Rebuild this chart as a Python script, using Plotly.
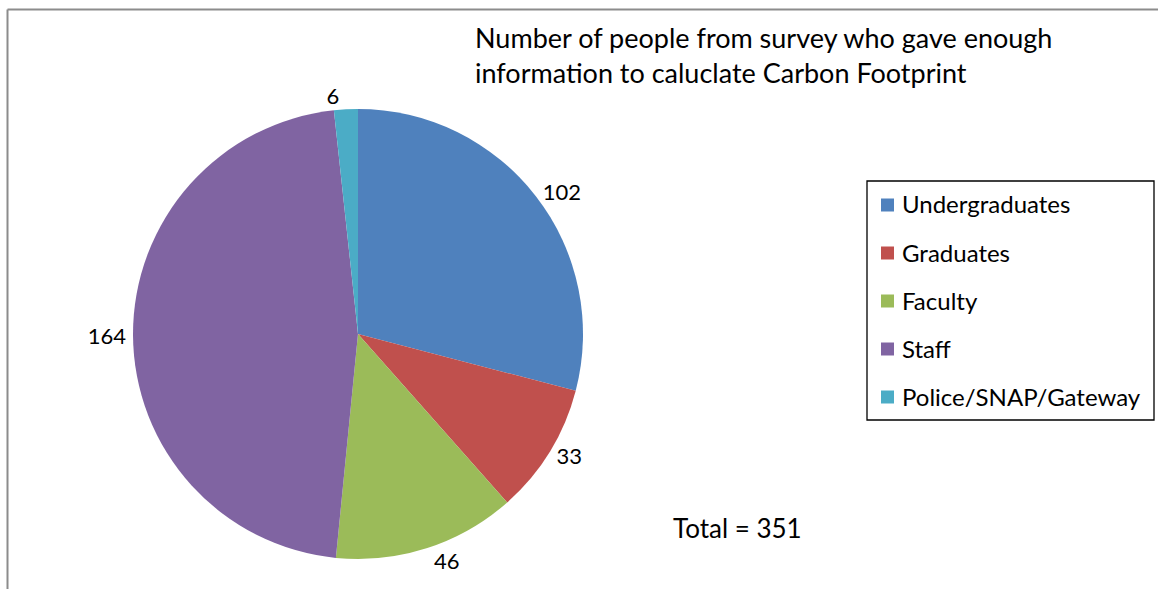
import plotly.graph_objects as go

# Survey respondents with enough data for a carbon footprint
categories = ["Undergraduates", "Graduates", "Faculty", "Staff", "Police/SNAP/Gateway"]
counts = [102, 33, 46, 164, 6]
colors = ["#4F81BD", "#C0504D", "#9BBB59", "#8064A2", "#4BACC6"]

W, H = 1158, 589
FONT = "Lato"


def px_x(x):
    return x / W


def px_y(y):
    return 1 - y / H


fig = go.Figure(
    go.Pie(
        labels=categories,
        values=counts,
        marker=dict(colors=colors, line=dict(width=0)),
        sort=False,
        direction="clockwise",
        rotation=0,
        textinfo="value",
        textposition="outside",
        textfont=dict(family=FONT, size=22, color="#000000"),
        domain=dict(x=[px_x(133), px_x(583)], y=[px_y(559), px_y(109)]),
        showlegend=False,
        hoverinfo="label+value",
    )
)

shapes = [
    # chart frame (top and left edges)
    dict(type="line", xref="paper", yref="paper", x0=px_x(7.5), x1=1, y0=px_y(9.5), y1=px_y(9.5),
         line=dict(color="#8C8C8C", width=2)),
    dict(type="line", xref="paper", yref="paper", x0=px_x(7.5), x1=px_x(7.5), y0=0, y1=px_y(9.5),
         line=dict(color="#8C8C8C", width=2)),
    # legend box
    dict(type="rect", xref="paper", yref="paper", x0=px_x(867), x1=px_x(1154), y0=px_y(420), y1=px_y(181),
         line=dict(color="#000000", width=1.3), fillcolor="rgba(0,0,0,0)"),
]

annotations = [
    dict(text="Number of people from survey who gave enough<br>information to caluclate Carbon Footprint",
         xref="paper", yref="paper", x=px_x(473), y=px_y(19), xanchor="left", yanchor="top",
         align="left", showarrow=False, font=dict(family=FONT, size=27, color="#000000")),
    dict(text="Total = 351", xref="paper", yref="paper", x=px_x(671), y=px_y(528),
         xanchor="left", yanchor="middle", showarrow=False,
         font=dict(family=FONT, size=26, color="#000000")),
]

# legend entries built from the category list
row_y0, row_step = 205, 48
for i, (name, col) in enumerate(zip(categories, colors)):
    cy = row_y0 + i * row_step
    shapes.append(dict(type="rect", xref="paper", yref="paper",
                       x0=px_x(881), x1=px_x(894), y0=px_y(cy + 6.5), y1=px_y(cy - 6.5),
                       fillcolor=col, line=dict(width=0)))
    annotations.append(dict(text=name, xref="paper", yref="paper", x=px_x(900), y=px_y(cy - 1),
                            xanchor="left", yanchor="middle", showarrow=False,
                            font=dict(family=FONT, size=24, color="#000000")))

fig.update_layout(
    width=W, height=H,
    margin=dict(l=0, r=0, t=0, b=0),
    paper_bgcolor="#FFFFFF",
    plot_bgcolor="#FFFFFF",
    shapes=shapes,
    annotations=annotations,
)

fig.write_html("out.html")
